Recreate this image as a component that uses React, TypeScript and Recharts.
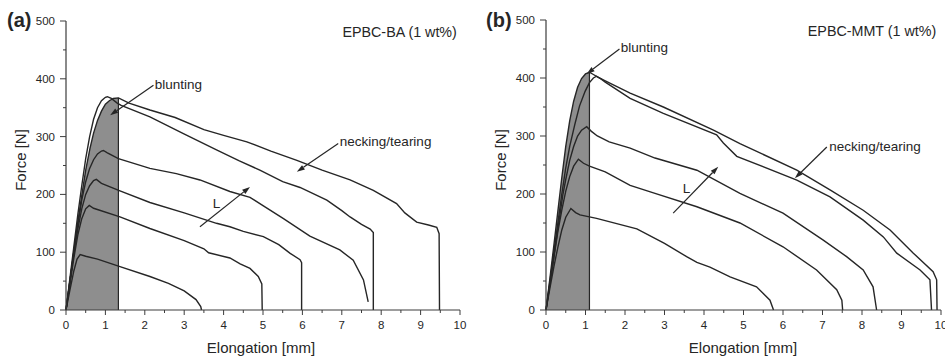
import React from "react";
import {
  ComposedChart,
  Line,
  Area,
  XAxis,
  YAxis,
  ReferenceLine,
  ReferenceDot,
} from "recharts";

type Pair = [number, number];
type Pt = { x: number; y: number };

// Axis ticks (elongation in mm, force in N)
const X_MAJOR = [0, 1, 2, 3, 4, 5, 6, 7, 8, 9, 10];
const X_MINOR = [0.5, 1.5, 2.5, 3.5, 4.5, 5.5, 6.5, 7.5, 8.5, 9.5];
const Y_MAJOR = [0, 100, 200, 300, 400, 500];
const Y_MINOR = [50, 150, 250, 350, 450];

// (a) EPBC-BA (1 wt%): force-elongation curves, one per ligament length
const BA_1: Pair[] = [
  [0, 0], [0.1, 50], [0.2, 102], [0.3, 152], [0.4, 198], [0.5, 242], [0.61, 280], [0.7, 306],
  [0.8, 328], [0.9, 344], [1.0, 356], [1.1, 362], [1.2, 366], [1.33, 367], [1.6, 358],
  [2.13, 346], [2.77, 333], [3.5, 312], [4.0, 302], [4.59, 291], [5.2, 275], [5.86, 259],
  [6.5, 242], [7.21, 225], [7.8, 207], [8.39, 184], [8.6, 168], [8.9, 152], [9.2, 147],
  [9.41, 143], [9.47, 132], [9.48, 0],
];
const BA_2: Pair[] = [
  [0, 0], [0.1, 55], [0.2, 110], [0.3, 165], [0.4, 215], [0.5, 262], [0.6, 300], [0.7, 330],
  [0.8, 350], [0.9, 362], [1.0, 368], [1.05, 369], [1.15, 366], [1.3, 358], [1.4, 354],
  [2.13, 334], [2.98, 305], [3.82, 277], [4.4, 258], [4.92, 242], [5.5, 222], [5.94, 212],
  [6.62, 190], [7.0, 172], [7.21, 161], [7.5, 148], [7.72, 140], [7.8, 134], [7.8, 0],
];
const BA_3: Pair[] = [
  [0, 0], [0.1, 50], [0.2, 100], [0.3, 148], [0.4, 190], [0.5, 222], [0.6, 245], [0.7, 260],
  [0.8, 270], [0.9, 275], [0.95, 276], [1.05, 272], [1.33, 262], [2.13, 245], [2.8, 236],
  [3.4, 225], [4.16, 205], [4.67, 195], [5.01, 180], [5.52, 158], [6.19, 128], [6.95, 104],
  [7.29, 86], [7.55, 52], [7.67, 14],
];
const BA_4: Pair[] = [
  [0, 0], [0.1, 50], [0.2, 98], [0.3, 140], [0.4, 175], [0.5, 200], [0.6, 215], [0.7, 224],
  [0.77, 226], [0.9, 219], [1.37, 206], [2.13, 186], [3.0, 168], [3.82, 150], [4.16, 144],
  [4.5, 136], [5.01, 127], [5.4, 113], [5.69, 98], [5.94, 87], [5.98, 82], [5.98, 0],
];
const BA_5: Pair[] = [
  [0, 0], [0.1, 45], [0.2, 90], [0.3, 130], [0.4, 158], [0.5, 175], [0.59, 181], [0.7, 176],
  [1.37, 161], [2.13, 141], [3.0, 120], [3.5, 106], [3.62, 99], [4.16, 90], [4.42, 80],
  [4.67, 72], [4.88, 58], [4.97, 45], [4.98, 0],
];
const BA_6: Pair[] = [
  [0, 0], [0.1, 35], [0.2, 68], [0.28, 88], [0.36, 96], [0.5, 93], [0.8, 88], [1.37, 75],
  [2.13, 58], [2.6, 46], [3.0, 33], [3.3, 18], [3.42, 6], [3.44, 0],
];

// (b) EPBC-MMT (1 wt%)
const MMT_1: Pair[] = [
  [0, 0], [0.1, 55], [0.2, 112], [0.3, 170], [0.4, 228], [0.5, 282], [0.6, 326], [0.7, 360],
  [0.8, 384], [0.9, 399], [1.0, 407], [1.1, 410], [1.2, 406], [1.3, 402], [1.5, 395],
  [2.13, 374], [2.97, 350], [4.24, 310], [4.91, 287], [6.35, 241], [7.19, 207], [8.03, 172],
  [8.71, 138], [9.3, 98], [9.8, 66], [9.89, 52], [9.9, 0],
];
const MMT_2: Pair[] = [
  [0, 0], [0.1, 50], [0.2, 100], [0.3, 150], [0.4, 200], [0.5, 245], [0.6, 282], [0.73, 320],
  [0.85, 352], [0.99, 377], [1.1, 392], [1.2, 400], [1.28, 403], [1.4, 398], [1.5, 393],
  [2.13, 365], [2.97, 339], [4.32, 302], [4.49, 288], [4.83, 265], [6.35, 224], [7.19, 195],
  [8.03, 155], [8.54, 126], [8.88, 98], [9.47, 69], [9.72, 52], [9.76, 0],
];
const MMT_3: Pair[] = [
  [0, 0], [0.1, 45], [0.2, 93], [0.3, 140], [0.43, 200], [0.5, 225], [0.6, 258], [0.7, 282],
  [0.8, 300], [0.9, 310], [1.03, 316], [1.15, 308], [1.3, 300], [1.6, 290], [2.13, 279],
  [2.76, 262], [3.82, 241], [4.91, 201], [6.0, 167], [7.01, 121], [7.61, 92], [8.03, 69],
  [8.28, 40], [8.37, 0],
];
const MMT_4: Pair[] = [
  [0, 0], [0.1, 45], [0.2, 90], [0.3, 135], [0.4, 172], [0.5, 205], [0.6, 230], [0.7, 248],
  [0.82, 260], [0.95, 253], [1.1, 248], [1.5, 238], [2.13, 215], [2.76, 201], [3.82, 178],
  [4.91, 150], [6.0, 109], [6.85, 69], [7.36, 35], [7.49, 17], [7.51, 0],
];
const MMT_5: Pair[] = [
  [0, 0], [0.1, 38], [0.2, 75], [0.3, 108], [0.4, 138], [0.5, 160], [0.63, 175], [0.75, 168],
  [0.86, 164], [1.28, 158], [2.3, 140], [3.0, 115], [3.56, 92], [3.82, 82], [4.15, 74],
  [4.66, 57], [5.33, 40], [5.67, 17], [5.76, 0],
];

// End of the blunting stage (mm)
const BLUNT_A = 1.33;
const BLUNT_B = 1.1;

// Annotations: arrows [from, to] and notes, in data units
type Arrow = { from: Pair; to: Pair };
type Note = { at: Pair; text: string; anchor: "start" | "middle" | "end"; size: number };

const ARROWS_A: Arrow[] = [
  { from: [2.22, 389], to: [1.12, 337] },
  { from: [6.91, 288], to: [5.86, 239] },
  { from: [3.4, 144], to: [4.67, 213] },
];
const NOTES_A: Note[] = [
  { at: [2.25, 391], text: "blunting", anchor: "start", size: 13.5 },
  { at: [6.95, 291], text: "necking/tearing", anchor: "start", size: 13.5 },
  { at: [3.82, 184], text: "L", anchor: "middle", size: 13.5 },
  { at: [9.92, 481], text: "EPBC-BA (1 wt%)", anchor: "end", size: 14.3 },
];
const ARROWS_B: Arrow[] = [
  { from: [1.86, 450], to: [1.03, 407] },
  { from: [7.11, 281], to: [6.3, 227] },
  { from: [3.22, 167], to: [4.36, 247] },
];
const NOTES_B: Note[] = [
  { at: [1.89, 452], text: "blunting", anchor: "start", size: 13.5 },
  { at: [7.17, 282], text: "necking/tearing", anchor: "start", size: 13.5 },
  { at: [3.56, 210], text: "L", anchor: "middle", size: 13.5 },
  { at: [9.88, 481], text: "EPBC-MMT (1 wt%)", anchor: "end", size: 14.3 },
];

const FONT = '"Liberation Sans", Arial, Helvetica, sans-serif';
const INK = "#262626";
const AXIS = "#3c3c3c";
const SHADE = "#8e8e8e";
const TICK_SIZE = 5;
const TICK_MARGIN = 6;

const toPts = (arr: Pair[]): Pt[] => arr.map(([x, y]) => ({ x, y }));
const X_TICKS = [...X_MAJOR, ...X_MINOR].sort((a, b) => a - b);
const Y_TICKS = [...Y_MAJOR, ...Y_MINOR].sort((a, b) => a - b);

const XTick = (props: any) => {
  const { x, y, payload } = props;
  const v = payload.value;
  const major = X_MAJOR.includes(v);
  const axisY = y - TICK_SIZE - TICK_MARGIN;
  return (
    <g>
      <line x1={x} x2={x} y1={axisY} y2={axisY + (major ? 5 : 3)} stroke={AXIS} strokeWidth={1} />
      {major && (
        <text x={x} y={y} dy="0.71em" textAnchor="middle" fontSize={11.5} fontFamily={FONT} fill={INK}>
          {v}
        </text>
      )}
    </g>
  );
};

const YTick = (props: any) => {
  const { x, y, payload } = props;
  const v = payload.value;
  const major = Y_MAJOR.includes(v);
  const axisX = x + TICK_SIZE + TICK_MARGIN;
  return (
    <g>
      <line x1={axisX - (major ? 6 : 3)} x2={axisX} y1={y} y2={y} stroke={AXIS} strokeWidth={1} />
      {major && (
        <text x={x} y={y} dy="0.355em" textAnchor="end" fontSize={11.5} fontFamily={FONT} fill={INK}>
          {v}
        </text>
      )}
    </g>
  );
};

const ArrowShape = (props: any) => {
  const { x1, y1, x2, y2 } = props;
  const ang = Math.atan2(y2 - y1, x2 - x1);
  const len = 8;
  const half = 2.6;
  const bx = x2 - len * Math.cos(ang);
  const by = y2 - len * Math.sin(ang);
  const px = -Math.sin(ang) * half;
  const py = Math.cos(ang) * half;
  return (
    <g>
      <line x1={x1} y1={y1} x2={bx} y2={by} stroke={INK} strokeWidth={1.2} />
      <polygon points={`${x2},${y2} ${bx + px},${by + py} ${bx - px},${by - py}`} fill={INK} />
    </g>
  );
};

const noteShape = (n: Note) => (p: any) => (
  <text
    x={p.cx}
    y={p.cy}
    textAnchor={n.anchor}
    dominantBaseline="central"
    fontSize={n.size}
    fontFamily={FONT}
    fill={INK}
  >
    {n.text}
  </text>
);

type PanelProps = {
  width: number;
  margin: { top: number; right: number; bottom: number; left: number };
  curves: Pair[][];
  blunt: number;
  arrows: Arrow[];
  notes: Note[];
};

function Panel({ width, margin, curves, blunt, arrows, notes }: PanelProps) {
  const shade = toPts(curves[0].filter(([x]) => x <= blunt));
  const top = shade[shade.length - 1].y;
  const edge: Pt[] = [
    { x: blunt, y: 0 },
    { x: blunt, y: top },
  ];
  return (
    <ComposedChart width={width} height={356} margin={margin}>
      <XAxis
        type="number"
        dataKey="x"
        domain={[0, 10]}
        ticks={X_TICKS}
        interval={0}
        tick={XTick}
        tickLine={false}
        tickSize={TICK_SIZE}
        tickMargin={TICK_MARGIN}
        height={30}
        stroke={AXIS}
        strokeWidth={1.2}
      />
      <XAxis xAxisId="top" orientation="top" type="number" domain={[0, 10]} tick={false} tickLine={false} height={0} stroke={AXIS} strokeWidth={1.2} />
      <YAxis
        type="number"
        domain={[0, 500]}
        ticks={Y_TICKS}
        interval={0}
        tick={YTick}
        tickLine={false}
        tickSize={TICK_SIZE}
        tickMargin={TICK_MARGIN}
        width={40}
        stroke={AXIS}
        strokeWidth={1.2}
      />
      <YAxis yAxisId="right" orientation="right" type="number" domain={[0, 500]} tick={false} tickLine={false} width={0} stroke={AXIS} strokeWidth={1.2} />
      <Area
        data={shade}
        dataKey="y"
        type="linear"
        fill={SHADE}
        fillOpacity={1}
        stroke="none"
        baseValue={0}
        isAnimationActive={false}
      />
      <Line data={edge} dataKey="y" type="linear" stroke={INK} strokeWidth={1.2} dot={false} isAnimationActive={false} />
      {curves.map((c, i) => (
        <Line
          key={`c${i}`}
          data={toPts(c)}
          dataKey="y"
          type="linear"
          stroke={INK}
          strokeWidth={1.4}
          dot={false}
          isAnimationActive={false}
        />
      ))}
      {arrows.map((a, i) => (
        <ReferenceLine
          key={`a${i}`}
          segment={[
            { x: a.from[0], y: a.from[1] },
            { x: a.to[0], y: a.to[1] },
          ]}
          shape={ArrowShape}
        />
      ))}
      {notes.map((n, i) => (
        <ReferenceDot key={`n${i}`} x={n.at[0]} y={n.at[1]} r={0} shape={noteShape(n)} />
      ))}
    </ComposedChart>
  );
}

export default function App() {
  return (
    <div style={{ position: "absolute", left: 0, top: 0, width: 945, height: 356, background: "#fff" }}>
      <div style={{ position: "absolute", left: 0, top: 0 }}>
        <Panel
          width={470}
          margin={{ top: 21, right: 10, bottom: 16, left: 26 }}
          curves={[BA_1, BA_2, BA_3, BA_4, BA_5, BA_6]}
          blunt={BLUNT_A}
          arrows={ARROWS_A}
          notes={NOTES_A}
        />
      </div>
      <div style={{ position: "absolute", left: 470, top: 0 }}>
        <Panel
          width={475}
          margin={{ top: 20, right: 4, bottom: 16, left: 36 }}
          curves={[MMT_1, MMT_2, MMT_3, MMT_4, MMT_5]}
          blunt={BLUNT_B}
          arrows={ARROWS_B}
          notes={NOTES_B}
        />
      </div>
      <svg
        width={945}
        height={356}
        style={{ position: "absolute", left: 0, top: 0, pointerEvents: "none" }}
        fontFamily={FONT}
        fill={INK}
      >
        <text x={7} y={27} fontSize={20} fontWeight="bold">(a)</text>
        <text x={486} y={27} fontSize={20} fontWeight="bold">(b)</text>
        <text x={20} y={160} fontSize={15} textAnchor="middle" dominantBaseline="central" transform="rotate(-90 20 160)">
          Force [N]
        </text>
        <text x={500} y={160} fontSize={15} textAnchor="middle" dominantBaseline="central" transform="rotate(-90 500 160)">
          Force [N]
        </text>
        <text x={261} y={347} fontSize={15} textAnchor="middle" dominantBaseline="central">
          Elongation [mm]
        </text>
        <text x={743} y={347} fontSize={15} textAnchor="middle" dominantBaseline="central">
          Elongation [mm]
        </text>
      </svg>
    </div>
  );
}
